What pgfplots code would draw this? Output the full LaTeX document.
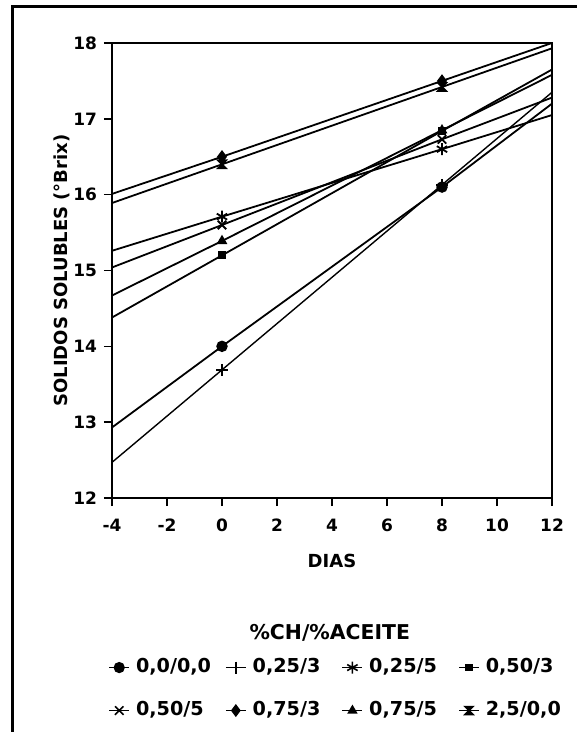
\documentclass[border=0pt]{standalone}
\usepackage{fontspec}
\setmainfont{DejaVu Sans}
\usepackage{pgfplots}
\pgfplotsset{compat=1.18}

% hourglass-like filled mark for 2,5/0,0
\pgfdeclareplotmark{hourglass}{%
  \pgfpathmoveto{\pgfqpoint{-\pgfplotmarksize}{\pgfplotmarksize}}%
  \pgfpathlineto{\pgfqpoint{\pgfplotmarksize}{\pgfplotmarksize}}%
  \pgfpathlineto{\pgfqpoint{-\pgfplotmarksize}{-\pgfplotmarksize}}%
  \pgfpathlineto{\pgfqpoint{\pgfplotmarksize}{-\pgfplotmarksize}}%
  \pgfpathclose
  \pgfusepathqfillstroke}

\begin{document}
\begin{tikzpicture}
\useasboundingbox (-56pt,-117pt) rectangle (232.5pt,249pt);
\draw[line width=1.5pt] (-49.5pt,-130pt) -- (-49.5pt,245.5pt) -- (240pt,245.5pt);
\begin{axis}[at={(0,0)},anchor=south west,scale only axis,width=220pt,height=227.5pt,
 xmin=-4,xmax=12,ymin=12,ymax=18,xtick={-4,-2,...,12},ytick={12,...,18},
 tick align=outside,xtick pos=bottom,ytick pos=left,major tick length=4pt,
 axis line style={line width=0.9pt},every tick/.style={black,line width=0.7pt},
 tick label style={font=\bfseries\fontsize{8.5}{10}\selectfont},
 xticklabel style={yshift=-3pt},
 /pgf/number format/assume math mode=true,
 xlabel={DIAS},ylabel={SOLIDOS SOLUBLES (°Brix)},
 label style={font=\bfseries\fontsize{9}{11}\selectfont},
 xlabel style={at={(axis description cs:0.5,-0.138)},anchor=center},
 ylabel style={at={(axis description cs:-0.114,0.5)},anchor=center},
 legend columns=4,legend cell align=left,
 legend style={at={(axis description cs:-0.009,-0.352)},anchor=north west,draw=none,
   inner sep=0pt,font=\bfseries\fontsize{9.6}{11}\selectfont,row sep=12.5pt,
   nodes={text width=41.5pt,inner xsep=3pt,inner ysep=0pt,text height=7pt,text depth=2pt}},
 legend image code/.code={\draw[#1,mark indices={2},line width=0.8pt]
   plot coordinates {(0pt,0pt) (5pt,0pt) (10pt,0pt)};},
 every axis plot/.append style={black,line width=0.9pt,mark indices={2,3}},
 every mark/.append style={solid,fill=black},
 clip=false]
\addplot[mark=*,mark size=2.4pt] coordinates {(-4,12.93) (0,14.0) (8,16.1) (12,17.2)};
\addlegendentry{0,0/0,0}
\addplot[mark=+,mark size=3pt,line width=0.7pt] coordinates {(-4,12.47) (0,13.69) (8,16.13) (12,17.35)};
\addlegendentry{0,25/3}
\addplot[mark=asterisk,mark size=3pt] coordinates {(-4,15.26) (0,15.71) (8,16.6) (12,17.05)};
\addlegendentry{0,25/5}
\addplot[mark=square*,mark size=1.5pt] coordinates {(-4,14.38) (0,15.2) (8,16.84) (12,17.65)};
\addlegendentry{0,50/3}
\addplot[mark=x,mark size=3pt] coordinates {(-4,15.04) (0,15.6) (8,16.73) (12,17.28)};
\addlegendentry{0,50/5}
\addplot[mark=diamond*,mark size=2.6pt] coordinates {(-4,16.01) (0,16.5) (8,17.5) (12,18.0)};
\addlegendentry{0,75/3}
\addplot[mark=triangle*,mark size=2.2pt] coordinates {(-4,14.67) (0,15.39) (8,16.85) (12,17.58)};
\addlegendentry{0,75/5}
\addplot[mark=hourglass,mark size=2pt] coordinates {(-4,15.89) (0,16.4) (8,17.42) (12,17.93)};
\addlegendentry{2,5/0,0}
\node[font=\bfseries\fontsize{10.2}{12}\selectfont] at (axis description cs:0.495,-0.297) {\%CH/\%ACEITE};
\end{axis}
\end{tikzpicture}
\end{document}
